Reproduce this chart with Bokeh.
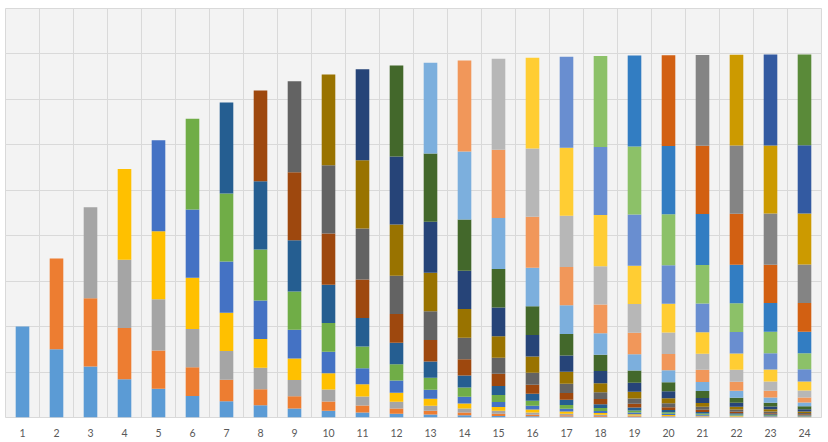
from bokeh.plotting import figure
from bokeh.models import FixedTicker, SingleIntervalTicker, Grid, ColumnDataSource
from bokeh.embed import file_html
from bokeh.resources import INLINE

# Categories (x axis labels)
categories = list(range(1, 25))

# Height of a segment, by its depth below the top of its bar
# (top segment = 1.0, the next one down 0.75, ...)
segment_by_depth = [1.0, 0.75, 0.5625, 0.422, 0.316, 0.237, 0.178, 0.1335, 0.100,
                    0.075, 0.0563, 0.0422, 0.0317, 0.0238, 0.0178, 0.0134, 0.010,
                    0.0075, 0.0056, 0.0042, 0.0032, 0.0024, 0.0018, 0.0013]

# Series colours (series 1 at the bottom of every bar)
series_colors = ["#5B9BD5", "#ED7D31", "#A5A5A5", "#FFC000", "#4472C4", "#70AD47",
                 "#255E91", "#9E480E", "#636363", "#997300", "#264478", "#43682B",
                 "#7CAFDD", "#F1975A", "#B7B7B7", "#FFCD33", "#698ED0", "#8CC168",
                 "#327DC2", "#D26012", "#848484", "#CC9A00", "#335AA1", "#5A8A39"]

series_names = ["s%d" % (k + 1) for k in range(len(series_colors))]

data = {"x": categories}
for k, name in enumerate(series_names):
    col = []
    for n in range(len(categories)):
        col.append(segment_by_depth[n - k] if n >= k else 0.0)
    data[name] = col
source = ColumnDataSource(data)

p = figure(frame_width=816, frame_height=409,
           x_range=(0.5, 24.5), y_range=(0, 4.5),
           output_backend="svg", toolbar_location=None,
           y_axis_location=None,
           min_border_left=5, min_border_top=8, min_border_right=5, min_border_bottom=22)

p.background_fill_color = "#F3F3F3"
p.border_fill_color = "white"
p.outline_line_color = "#D9D9D9"
p.outline_line_width = 1

p.vbar_stack(series_names, x="x", width=0.4, color=series_colors,
             line_color=None, source=source)

# grids
p.xgrid.ticker = FixedTicker(ticks=[i + 0.5 for i in range(25)])
p.xgrid.grid_line_color = "#D9D9D9"
p.xgrid.grid_line_width = 1
p.add_layout(Grid(dimension=1, ticker=SingleIntervalTicker(interval=0.5),
                  grid_line_color="#D9D9D9", grid_line_width=1))

ax = p.xaxis[0]
ax.ticker = FixedTicker(ticks=categories)
ax.axis_line_color = None
ax.major_tick_line_color = None
ax.minor_tick_line_color = None
ax.major_label_standoff = 5
ax.major_label_text_font = "Lato"
ax.major_label_text_font_size = "10.5px"
ax.major_label_text_color = "#595959"

open("out.html", "w").write(file_html(p, INLINE))
